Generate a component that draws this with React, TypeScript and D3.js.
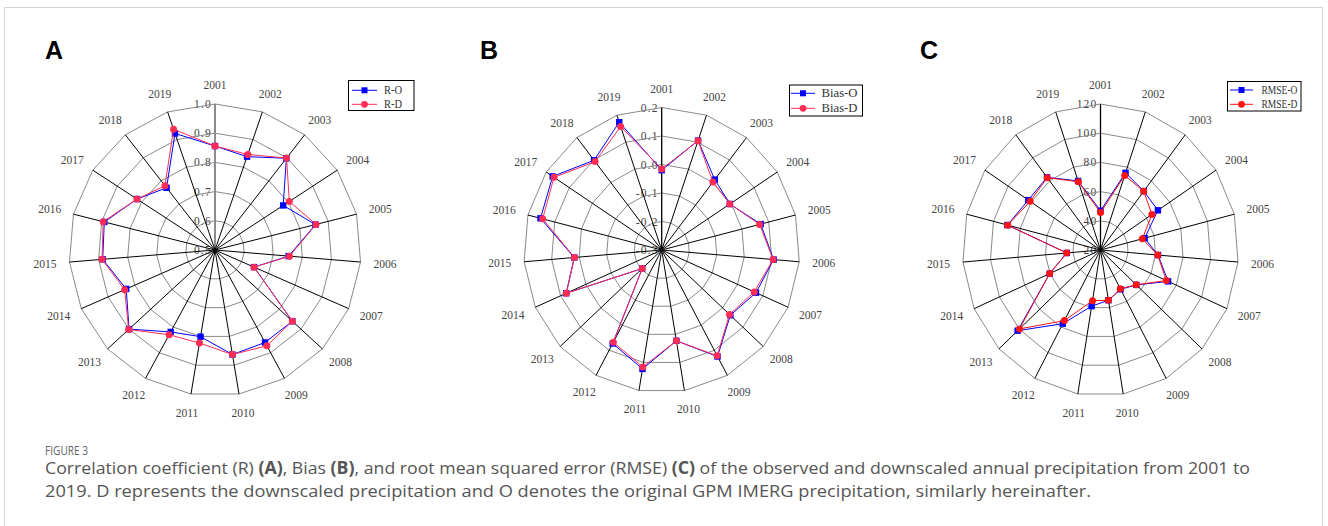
import React from 'react';
import * as d3 from 'd3';

const YEARS = ['2001','2002','2003','2004','2005','2006','2007','2008','2009','2010','2011','2012','2013','2014','2015','2016','2017','2018','2019'];

const R_O = [0.856, 0.838, 0.898, 0.779, 0.855, 0.753, 0.646, 0.860, 0.860, 0.863, 0.801, 0.819, 0.900, 0.832, 0.886, 0.891, 0.819, 0.770, 0.922];
const R_D = [0.856, 0.846, 0.899, 0.804, 0.857, 0.756, 0.646, 0.860, 0.873, 0.863, 0.823, 0.830, 0.902, 0.838, 0.888, 0.895, 0.819, 0.779, 0.937];
const BIAS_O = [-0.020, 0.106, 0.013, -0.005, 0.070, 0.107, 0.073, 0.038, 0.125, 0.023, 0.123, 0.073, -0.204, 0.078, 0.018, 0.153, 0.172, 0.099, 0.174];
const BIAS_D = [-0.016, 0.105, 0.002, -0.005, 0.066, 0.105, 0.066, 0.034, 0.122, 0.023, 0.116, 0.068, -0.204, 0.077, 0.017, 0.145, 0.166, 0.093, 0.158];
const RMSE_O = [46.9, 75.9, 71.1, 69.7, 53.0, 61.8, 73.5, 55.3, 50.6, 54.9, 59.0, 77.4, 101.6, 60.2, 44.5, 89.6, 82.5, 83.1, 70.0];
const RMSE_D = [45.6, 74.0, 71.0, 64.5, 51.3, 61.6, 72.1, 55.2, 50.1, 54.9, 55.2, 75.0, 99.8, 60.2, 44.5, 89.4, 80.9, 82.8, 69.4];

const TICKS_A = [0.5, 0.6, 0.7, 0.8, 0.9, 1.0];
const TICKS_B = [-0.3, -0.2, -0.1, 0.0, 0.1, 0.2];
const TICKS_C = [20, 40, 60, 80, 100, 120];
const TICK_LABELS_A = ['0.5', '0.6', '0.7', '0.8', '0.9', '1.0'];
const TICK_LABELS_B = ['-0.3', '-0.2', '-0.1', '0.0', '0.1', '0.2'];
const TICK_LABELS_C = ['20', '40', '60', '80', '100', '120'];

const SERIES_NAMES_A = ['R-O', 'R-D'];
const SERIES_NAMES_B = ['Bias-O', 'Bias-D'];
const SERIES_NAMES_C = ['RMSE-O', 'RMSE-D'];

const BLUE = '#0000ff';
const SERIF = '"Liberation Serif", "Times New Roman", serif';

type Cfg = {
  letter: string; letterX: number;
  cx: number; cy: number; rx: number; ry: number;
  ticks: number[]; tickLabels: string[];
  o: number[]; d: number[]; names: string[];
  red: string; axisColor: string; axisWidth: number;
  legend: { x: number; y: number; w: number; h: number; row1: number; row2: number; l1: number; l2: number; tx: number };
};

const CHARTS: Cfg[] = [
  { letter: 'A', letterX: 45, cx: 215, cy: 250, rx: 146, ry: 146, ticks: TICKS_A, tickLabels: TICK_LABELS_A, o: R_O, d: R_D, names: SERIES_NAMES_A, red: '#ff2d55', axisColor: '#8c8c8c', axisWidth: 2,
    legend: { x: 348.5, y: 80.5, w: 65.5, h: 30, row1: 90.3, row2: 104.3, l1: 352, l2: 377, tx: 384 } },
  { letter: 'B', letterX: 480, cx: 661.7, cy: 250, rx: 138, ry: 142.5, ticks: TICKS_B, tickLabels: TICK_LABELS_B, o: BIAS_O, d: BIAS_D, names: SERIES_NAMES_B, red: '#ff2d55', axisColor: '#000', axisWidth: 1.3,
    legend: { x: 789.5, y: 85, w: 73, h: 31, row1: 93.3, row2: 108.3, l1: 791, l2: 815, tx: 821.5 } },
  { letter: 'C', letterX: 920, cx: 1100.5, cy: 250, rx: 138, ry: 146, ticks: TICKS_C, tickLabels: TICK_LABELS_C, o: RMSE_O, d: RMSE_D, names: SERIES_NAMES_C, red: '#ff1414', axisColor: '#000', axisWidth: 1.3,
    legend: { x: 1227.5, y: 81.5, w: 73.5, h: 29.5, row1: 90, row2: 104.3, l1: 1230, l2: 1253, tx: 1261.5 } },
];

function Radar({ c }: { c: Cfg }) {
  const n = YEARS.length;
  const ang = d3.scaleLinear().domain([0, n]).range([0, 2 * Math.PI]);
  const rad = d3.scaleLinear().domain([c.ticks[0], c.ticks[c.ticks.length - 1]]).range([0, 1]);
  const pt = (i: number, v: number): [number, number] => {
    const a = ang(i); const k = rad(v);
    return [c.cx + c.rx * k * Math.sin(a), c.cy - c.ry * k * Math.cos(a)];
  };
  const line = d3.line<[number, number]>().curve(d3.curveLinearClosed);
  const idx = d3.range(n);
  const maxV = c.ticks[c.ticks.length - 1];
  const gap = 13.5, hw = 11, hh = 5.5;
  const oPts = c.o.map((v, i) => pt(i, v));
  const dPts = c.d.map((v, i) => pt(i, v));
  const L = c.legend;
  return (
    <g>
      <text x={c.letterX} y={59} fontFamily='"Liberation Sans", Arial, sans-serif' fontWeight="bold" fontSize={25} fill="#000">{c.letter}</text>
      {c.ticks.map((t, k) => {
        const [, y] = pt(0, t);
        return <text key={'t' + k} x={c.cx - 3} y={y} textAnchor="end" dominantBaseline="central" fontFamily={SERIF} fontSize={11.5} letterSpacing={1.2} fill="#444">{c.tickLabels[k]}</text>;
      })}
      {c.ticks.slice(1).map((t, k) => (
        <path key={'r' + k} d={line(idx.map(i => pt(i, t))) || ''} fill="none" stroke="#8a8a8a" strokeWidth={1} />
      ))}
      {idx.map(i => {
        const [x, y] = pt(i, maxV);
        return <line key={'s' + i} x1={c.cx} y1={c.cy} x2={x} y2={y} stroke={i === 0 ? c.axisColor : '#000'} strokeWidth={i === 0 ? c.axisWidth : 1} />;
      })}
      {idx.map(i => {
        const a = ang(i);
        const x = c.cx + (c.rx + gap + hw) * Math.sin(a);
        const y = c.cy - (c.ry + gap + hh) * Math.cos(a);
        return <text key={'y' + i} x={x} y={y} textAnchor="middle" dominantBaseline="central" fontFamily={SERIF} fontSize={11.5} fill="#444">{YEARS[i]}</text>;
      })}
      <path d={line(oPts) || ''} fill="none" stroke={BLUE} strokeWidth={1} />
      {oPts.map((p, i) => <rect key={'o' + i} x={p[0] - 3.2} y={p[1] - 3.2} width={6.4} height={6.4} fill={BLUE} />)}
      <path d={line(dPts) || ''} fill="none" stroke={c.red} strokeWidth={1} />
      {dPts.map((p, i) => <circle key={'d' + i} cx={p[0]} cy={p[1]} r={3.5} fill={c.red} />)}
      <rect x={L.x} y={L.y} width={L.w} height={L.h} fill="#fff" stroke="#000" strokeWidth={1} />
      <line x1={L.l1} x2={L.l2} y1={L.row1} y2={L.row1} stroke={BLUE} strokeWidth={1} />
      <rect x={(L.l1 + L.l2) / 2 - 3} y={L.row1 - 3} width={6} height={6} fill={BLUE} />
      <text x={L.tx} y={L.row1} dominantBaseline="central" fontFamily={SERIF} fontSize={12} fill="#333" textLength={c.names[0].length * 6} lengthAdjust="spacingAndGlyphs">{c.names[0]}</text>
      <line x1={L.l1} x2={L.l2} y1={L.row2} y2={L.row2} stroke={c.red} strokeWidth={1} />
      <circle cx={(L.l1 + L.l2) / 2} cy={L.row2} r={3.4} fill={c.red} />
      <text x={L.tx} y={L.row2} dominantBaseline="central" fontFamily={SERIF} fontSize={12} fill="#333" textLength={c.names[1].length * 6} lengthAdjust="spacingAndGlyphs">{c.names[1]}</text>
    </g>
  );
}

export default function App() {
  const cap = '"Open Sans", "Noto Sans", sans-serif';
  return (
    <svg width={1328} height={526} style={{ position: 'absolute', left: 0, top: 0, background: '#fff' }}>
      <rect x={0} y={0} width={1328} height={526} fill="#fff" />
      <rect x={4.5} y={7.5} width={1318} height={620} fill="none" stroke="#d4d4d4" strokeWidth={1} />
      {CHARTS.map(c => <Radar key={c.letter} c={c} />)}
      <text x={45} y={454.5} fontFamily={cap} fontSize={13} fill="#666" textLength={43} lengthAdjust="spacingAndGlyphs">FIGURE 3</text>
      <text x={45} y={474} fontFamily={cap} fontSize={17} fill="#555" textLength={1205} lengthAdjust="spacingAndGlyphs">
        Correlation coefficient (R) <tspan fontWeight="bold">(A)</tspan>, Bias <tspan fontWeight="bold">(B)</tspan>, and root mean squared error (RMSE) <tspan fontWeight="bold">(C)</tspan> of the observed and downscaled annual precipitation from 2001 to
      </text>
      <text x={45} y={497} fontFamily={cap} fontSize={17} fill="#555" textLength={1046} lengthAdjust="spacingAndGlyphs">
        2019. D represents the downscaled precipitation and O denotes the original GPM IMERG precipitation, similarly hereinafter.
      </text>
    </svg>
  );
}
